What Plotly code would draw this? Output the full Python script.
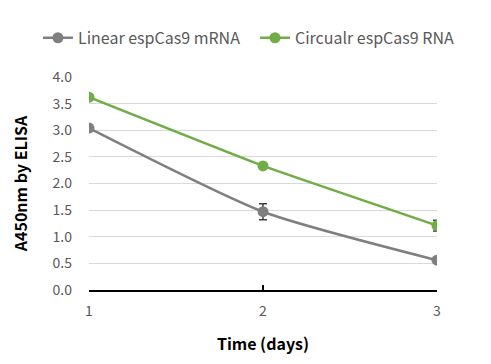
import plotly.graph_objects as go

days = [1, 2, 3]
linear_vals = [3.04, 1.47, 0.56]
linear_err = [0.0, 0.15, 0.0]
circ_vals = [3.62, 2.33, 1.21]
circ_err = [0.0, 0.0, 0.1]
y_ticks = [0, 0.5, 1.0, 1.5, 2.0, 2.5, 3.0, 3.5, 4.0]
y_tick_text = ["0.0", "0.5", "1.0", "1.5", "2.0", "2.5", "3.0", "3.5", "4.0"]

gray = "#7f7f7f"
green = "#70ad47"

fig = go.Figure()
fig.add_trace(go.Scatter(
    x=days, y=linear_vals, name="Linear espCas9 mRNA", mode="lines+markers",
    line=dict(color=gray, width=2.5, shape="spline", smoothing=0.6),
    marker=dict(color=gray, size=11), legend="legend",
    error_y=dict(type="data", array=linear_err, color="#404040", thickness=1.5, width=4),
))
fig.add_trace(go.Scatter(
    x=days, y=circ_vals, name="Circualr espCas9 RNA", mode="lines+markers",
    line=dict(color=green, width=2.5, shape="spline", smoothing=0.3),
    marker=dict(color=green, size=11), legend="legend2",
    error_y=dict(type="data", array=circ_err, color="#404040", thickness=1.5, width=4),
))

leg_common = dict(orientation="h", xanchor="left", xref="container",
                  y=0.918, yanchor="middle", yref="container",
                  font=dict(size=16, color="#595959"), itemwidth=30,
                  bgcolor="rgba(0,0,0,0)")

fig.update_layout(
    width=491, height=364,
    margin=dict(l=81, r=62, t=69, b=82, autoexpand=False),
    paper_bgcolor="white", plot_bgcolor="white",
    font=dict(family="Noto Sans CJK SC, Noto Sans", color="#595959", size=14),
    showlegend=True,
    legend=dict(x=0.061, **leg_common),
    legend2=dict(x=0.503, **leg_common),
    xaxis=dict(
        range=[1, 3], tickvals=days, ticktext=[str(d) for d in days],
        showgrid=False, showline=True, linecolor="black", linewidth=2,
        ticks="inside", ticklen=5, tickcolor="black", tickwidth=1.5,
        zeroline=False, automargin=False, ticklabelstandoff=7,
        title=dict(text="<b>Time (days)</b>", font=dict(size=16, color="black"), standoff=20),
        tickfont=dict(size=14, color="#595959"),
    ),
    yaxis=dict(
        range=[0, 4], tickvals=y_ticks, ticktext=y_tick_text,
        showgrid=True, gridcolor="#d9d9d9", gridwidth=1,
        zeroline=False, showline=False, automargin=False, ticklabelstandoff=16,
        title=dict(text="<b>A450nm by ELISA</b>", font=dict(size=16, color="black"), standoff=22),
        tickfont=dict(size=14, color="#595959"),
    ),
)

fig.write_html("out.html")
